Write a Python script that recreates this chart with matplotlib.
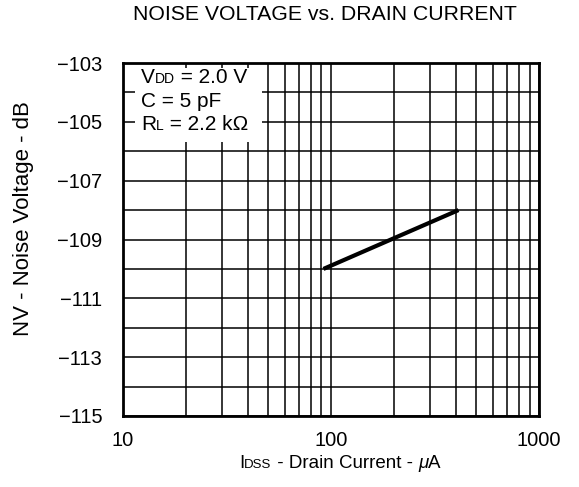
import matplotlib
matplotlib.use("Agg")
import matplotlib.pyplot as plt
from matplotlib.ticker import FixedLocator, LogLocator, NullFormatter
from matplotlib.patches import Rectangle
from matplotlib.transforms import IdentityTransform

plt.rcParams["font.family"] = ["Liberation Sans", "DejaVu Sans"]

# data
drain_current = [92, 410]      # uA
noise_voltage = [-110, -108]   # dB

y_ticks = [-115, -113, -111, -109, -107, -105, -103]
x_ticks = [10, 100, 1000]
x_tick_labels = ["10", "100", "1000"]

fig = plt.figure(figsize=(5.79, 4.87), dpi=100)
ax = fig.add_axes((0.2124, 0.1458, 0.7186, 0.7248))
renderer = fig.canvas.get_renderer()


def text_width(s, size, style):
    # pad with bars so leading/trailing spaces count
    a = fig.text(0, 0, "|" + s + "|", fontsize=size, style=style)
    b = fig.text(0, 0, "||", fontsize=size, style=style)
    w = a.get_window_extent(renderer).width - b.get_window_extent(renderer).width
    a.remove()
    b.remove()
    return w


def rich_text(x, y, pieces, transform, ha="left", zorder=6):
    # pieces of (text, size, style) drawn on one baseline, small caps style subscripts
    x0, y0 = transform.transform((x, y))
    widths = [text_width(s, size, st) for s, size, st in pieces]
    if ha == "center":
        x0 -= sum(widths) / 2
    for (s, size, st), w in zip(pieces, widths):
        fig.text(x0, y0, s, fontsize=size, style=st, va="baseline", ha="left",
                 transform=IdentityTransform(), zorder=zorder)
        x0 += w


ax.plot(drain_current, noise_voltage, color="black", lw=3, solid_capstyle="butt", zorder=4)

ax.set_xscale("log")
ax.set_xlim(10, 1000)
ax.set_ylim(-115, -103)
ax.set_xticks(x_ticks)
ax.set_xticklabels(x_tick_labels)
ax.xaxis.set_minor_locator(LogLocator(base=10, subs=range(2, 10)))
ax.xaxis.set_minor_formatter(NullFormatter())
ax.set_yticks(y_ticks)
ax.set_yticklabels(["\u2212%d" % abs(v) for v in y_ticks])
ax.yaxis.set_minor_locator(FixedLocator(range(-114, -103, 2)))

ax.grid(True, which="both", color="black", lw=1.1)
ax.tick_params(which="both", length=0, labelsize=14.5)
ax.tick_params(axis="y", pad=15)
ax.tick_params(axis="x", pad=10.5)
for s in ax.spines.values():
    s.set_linewidth(2)
    s.set_zorder(5)

# white box behind the conditions
ax.add_patch(Rectangle((0.029, 0.777), 0.305, 0.209, transform=ax.transAxes,
                       facecolor="white", edgecolor="none", zorder=3))
rich_text(0.043, 0.943, [("V", 15, "normal"), ("DD", 10, "normal"), (" = 2.0 V", 15, "normal")], ax.transAxes)
rich_text(0.043, 0.875, [("C = 5 pF", 15, "normal")], ax.transAxes)
rich_text(0.043, 0.810, [("R", 15, "normal"), ("L", 10, "normal"), (" = 2.2 k\u03a9", 15, "normal")], ax.transAxes)

# x label with small-caps subscript
rich_text(0.587, 0.039, [("I", 13.5, "normal"), ("DSS", 9.5, "normal"),
                         (" - Drain Current - ", 13.5, "normal"),
                         ("\u03bc", 13.5, "italic"), ("A", 13.5, "normal")],
          fig.transFigure, ha="center")

ax.set_ylabel("NV - Noise Voltage - dB", fontsize=16)
ax.yaxis.set_label_coords(-0.215, 0.56)
fig.text(0.561, 0.970, "NOISE VOLTAGE vs. DRAIN CURRENT", ha="center", va="center", fontsize=15.3)

fig.savefig("out.png", dpi=100)
